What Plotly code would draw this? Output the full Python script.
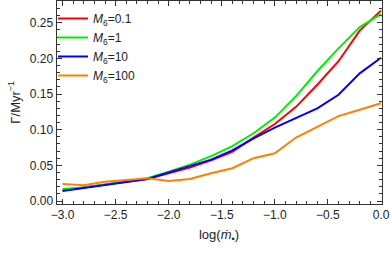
import plotly.graph_objects as go

log_mdot = [-3.0, -2.8, -2.6, -2.4, -2.2, -2.0, -1.8, -1.6, -1.4, -1.2, -1.0, -0.8, -0.6, -0.4, -0.2, 0.0]
rate_M01 = [0.015, 0.019, 0.023, 0.027, 0.031, 0.039, 0.047, 0.057, 0.069, 0.089, 0.108, 0.132, 0.163, 0.196, 0.239, 0.267]
rate_M1 = [0.017, 0.019, 0.023, 0.027, 0.032, 0.041, 0.051, 0.063, 0.077, 0.095, 0.117, 0.147, 0.182, 0.214, 0.244, 0.262]
rate_M10 = [0.014, 0.018, 0.023, 0.027, 0.031, 0.040, 0.049, 0.058, 0.071, 0.088, 0.103, 0.117, 0.130, 0.149, 0.179, 0.201]
rate_M100 = [0.024, 0.022, 0.027, 0.030, 0.032, 0.028, 0.031, 0.039, 0.046, 0.060, 0.067, 0.089, 0.104, 0.119, 0.128, 0.137]

series_names = ["<i>M</i><sub>6</sub>=0.1", "<i>M</i><sub>6</sub>=1",
                "<i>M</i><sub>6</sub>=10", "<i>M</i><sub>6</sub>=100"]
series_vals = [rate_M01, rate_M1, rate_M10, rate_M100]
series_colors = ["#ff0000", "#00ee00", "#0000ff", "#ff8000"]

W, H = 390, 253

fig = go.Figure()
for name, vals, col in zip(series_names, series_vals, series_colors):
    fig.add_trace(go.Scatter(x=log_mdot, y=vals, mode="lines", name=name,
                             line=dict(color=col, width=2)))

font = dict(family="Liberation Sans, Arial, sans-serif", size=12, color="#222")
axis_common = dict(showline=True, linecolor="#333", linewidth=1, mirror="allticks",
                   ticks="inside", ticklen=5, tickcolor="#333", showgrid=False,
                   zeroline=False, automargin=False,
                   tickfont=dict(family=font["family"], size=12, color="#222"))

fig.update_layout(
    width=W, height=H, autosize=False,
    margin=dict(l=0, r=0, t=0, b=0, pad=0, autoexpand=False),
    paper_bgcolor="white", plot_bgcolor="white",
    font=font,
    showlegend=True,
    legend=dict(x=53 / W, y=1 - 4 / H, xanchor="left", yanchor="top",
                bgcolor="rgba(0,0,0,0)", font=dict(size=12), tracegroupgap=0),
    xaxis=dict(domain=[56.5 / W, 381.5 / W],
               range=[-3.057, 0.005], tickvals=[-3.0, -2.5, -2.0, -1.5, -1.0, -0.5, 0.0],
               tickformat=".1f",
               minor=dict(dtick=0.1, tick0=0, ticklen=3, ticks="inside", tickcolor="#333"),
               title=dict(text="log(<i>ṁ</i><sub>•</sub>)", font=dict(size=13), standoff=8),
               **axis_common),
    yaxis=dict(domain=[(H - 204) / H, (H - 0.5) / H],
               range=[-0.0042, 0.2812], tickvals=[0.0, 0.05, 0.10, 0.15, 0.20, 0.25],
               tickformat=".2f",
               minor=dict(dtick=0.01, tick0=0, ticklen=3, ticks="inside", tickcolor="#333"),
               title=dict(text="Γ/Myr<sup>−1</sup>", font=dict(size=13), standoff=6),
               **axis_common),
)

fig.write_html("out.html", config={"responsive": False, "displayModeBar": False})
with open("out.html", encoding="utf-8") as f:
    html = f.read()
html = html.replace("<body>", '<body style="margin:0;padding:0;overflow:hidden">', 1)
with open("out.html", "w", encoding="utf-8") as f:
    f.write(html)
